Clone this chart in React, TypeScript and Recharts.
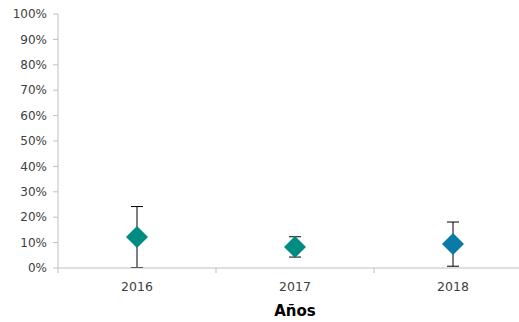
import React from "react"
import { LineChart, Line, XAxis, YAxis, ErrorBar } from "recharts"

const YEARS: string[] = ["2016", "2017", "2018"]
const VALUES: number[] = [0.122, 0.083, 0.094]
const ERRORS: number[] = [0.12, 0.04, 0.087]
const COLORS: string[] = ["#008C82", "#008C82", "#0A7BA6"]
const Y_TICKS: number[] = [0, 0.1, 0.2, 0.3, 0.4, 0.5, 0.6, 0.7, 0.8, 0.9, 1]

const data = YEARS.map((year, i) => ({ year, value: VALUES[i], err: ERRORS[i], color: COLORS[i] }))

const FONT = "'DejaVu Sans', Verdana, sans-serif"
// plot runs a bit past the right edge of the picture, like the original
const CHART_W = 534
const BAND = (532 - 58) / 3

const Diamond = (props: any) => {
  const { cx, cy, payload } = props
  if (typeof cx !== "number" || typeof cy !== "number") return null
  const r = 11
  return (
    <path
      d={`M${cx},${cy - r}L${cx + r},${cy}L${cx},${cy + r}L${cx - r},${cy}Z`}
      fill={payload.color}
      stroke="none"
    />
  )
}

const XTick = (props: any) => {
  const { x, y, payload, index } = props
  return (
    <g>
      <line x1={x - BAND / 2} x2={x - BAND / 2} y1={y} y2={y + 5} stroke="#BFBFBF" />
      {index === YEARS.length - 1 && (
        <line x1={x + BAND / 2} x2={x + BAND / 2} y1={y} y2={y + 5} stroke="#BFBFBF" />
      )}
      <text x={x} y={y + 23} textAnchor="middle" fill="#404040" fontSize={12.5} fontFamily={FONT}>
        {payload.value}
      </text>
    </g>
  )
}

export default function App() {
  return (
    <div style={{ position: "absolute", left: 0, top: 0, width: 519, height: 322, overflow: "hidden", background: "#fff" }}>
      <LineChart width={CHART_W} height={322} data={data} margin={{ top: 14, right: 2, bottom: 0, left: 0 }}>
        <XAxis
          dataKey="year"
          scale="band"
          height={54}
          stroke="#BFBFBF"
          tickLine={false}
          tickSize={0}
          tickMargin={0}
          tick={<XTick />}
          label={{
            value: "Años",
            position: "insideBottom",
            offset: 6,
            fill: "#000",
            fontSize: 15,
            fontWeight: "bold",
            fontFamily: FONT,
          }}
        />
        <YAxis
          domain={[0, 1]}
          ticks={Y_TICKS}
          interval={0}
          width={58}
          stroke="#BFBFBF"
          tickSize={5}
          tickMargin={6}
          tickFormatter={(v: number) => `${Math.round(v * 100)}%`}
          tick={{ fill: "#404040", fontSize: 12, fontFamily: FONT }}
        />
        <Line
          dataKey="value"
          stroke="none"
          isAnimationActive={false}
          dot={<Diamond />}
          activeDot={false}
        >
          <ErrorBar dataKey="err" width={6} stroke="#000" strokeWidth={1} direction="y" />
        </Line>
      </LineChart>
    </div>
  )
}
